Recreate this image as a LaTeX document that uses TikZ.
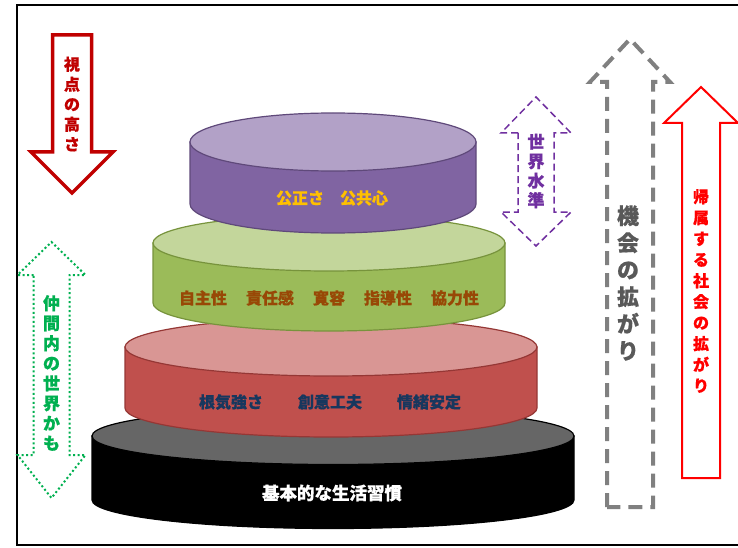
\documentclass[tikz,border=0pt]{standalone}
\usepackage{fontspec}
\newfontfamily\jp[BoldFeatures={FakeBold=0.5}]{Noto Sans CJK JP}
\definecolor{pside}{HTML}{8064A2}
\definecolor{ptop}{HTML}{B2A1C7}
\definecolor{pline}{HTML}{5F497A}
\definecolor{gside}{HTML}{9BBB59}
\definecolor{gtop}{HTML}{C3D69B}
\definecolor{gline}{HTML}{77933C}
\definecolor{rside}{HTML}{C0504D}
\definecolor{rtop}{HTML}{D99694}
\definecolor{rline}{HTML}{953735}
\definecolor{ktop}{HTML}{666666}
\definecolor{darkred}{HTML}{C00000}
\definecolor{txtorange}{HTML}{FFC000}
\definecolor{txtbrown}{HTML}{984806}
\definecolor{txtnavy}{HTML}{17375E}
\definecolor{greenar}{HTML}{00B050}
\definecolor{purplear}{HTML}{7030A0}
\definecolor{grayar}{HTML}{808080}
\definecolor{graytxt}{HTML}{595959}
\newcommand{\mycyl}[8]{%
  \draw[draw=#8, line width=1.2, fill=#6] (#1-#2,#3) -- (#1-#2,#4)
    arc[start angle=180, end angle=360, x radius=#2, y radius=#5] -- (#1+#2,#3) -- cycle;
  \draw[draw=#8, line width=1.2, fill=#7] (#1,#3) ellipse[x radius=#2, y radius=#5];
}
\begin{document}
\begin{tikzpicture}[x=1pt,y=1pt,
  cyltext/.style={font=\jp\bfseries\fontsize{16}{19}\selectfont, inner sep=0pt},
  vtext/.style={align=center, inner sep=0pt, font=\jp\bfseries\fontsize{16}{20}\selectfont},
  arrowshape/.style={fill=white, line join=miter}
]
\useasboundingbox (0,0) rectangle (738,547);
\clip (0,0) rectangle (738,547);
\draw[line width=2] (17,2) rectangle (745,542);

% cylinders, bottom to top
\mycyl{333}{241}{111}{47}{28.5}{black}{ktop}{black}
\mycyl{331}{206}{200}{139}{29}{rside}{rtop}{rline}
\mycyl{329}{176}{304}{244}{28}{gside}{gtop}{gline}
\mycyl{333}{143}{405}{343}{29}{pside}{ptop}{pline}

\node[cyltext, text=white, font=\jp\bfseries\fontsize{17.5}{20}\selectfont] (base) at (332,54) {基本的な生活習慣};
\node[cyltext, text=txtnavy] (tier2) at (330,145) {根気強さ\hspace{35pt}創意工夫\hspace{35pt}情緒安定};
\node[cyltext, text=txtbrown] (tier3) at (329,249) {自主性\hspace{19pt}責任感\hspace{19pt}寛容\hspace{19pt}指導性\hspace{19pt}協力性};
\node[cyltext, text=txtorange] (tier4) at (332,349) {公正さ\hspace{16pt}公共心};

% left down arrow
\draw[arrowshape, draw=darkred, line width=3.5]
  (52.5,512) -- (91.5,512) -- (91.5,395) -- (113,395) -- (72,354) -- (31,395) -- (52.5,395) -- cycle;
\node[vtext, text=darkred] (view) at (72,443) {視\\点\\の\\高\\さ};

% green dotted double arrow
\draw[arrowshape, draw=greenar, line width=2, dash pattern=on 2pt off 2.5pt]
  (33.5,272) -- (17.5,272) -- (51.5,305) -- (85.5,272) -- (69.5,272) -- (69.5,92)
  -- (85.5,92) -- (51.5,49) -- (17.5,92) -- (33.5,92) -- cycle;
\node[vtext, text=greenar, font=\jp\bfseries\fontsize{17}{20}\selectfont] (peer) at (51.5,174) {仲\\間\\内\\の\\世\\界\\か\\も};

% purple dashed double arrow
\draw[arrowshape, draw=purplear, line width=1.5, dash pattern=on 7pt off 4pt]
  (518,414) -- (501,414) -- (536,450) -- (571,414) -- (554,414) -- (554,335)
  -- (571,335) -- (536,301) -- (501,335) -- (518,335) -- cycle;
\node[vtext, text=purplear, font=\jp\bfseries\fontsize{17}{19.5}\selectfont] (world) at (536,376) {世\\界\\水\\準};

% gray dashed up arrow
\draw[arrowshape, draw=grayar, line width=4, dash pattern=on 14pt off 8pt]
  (607,40) -- (607,465) -- (590,465) -- (630,508) -- (670,465) -- (653,465) -- (653,40) -- cycle;
\node[vtext, text=graytxt, font=\jp\bfseries\fontsize{22}{27}\selectfont] (chance) at (628,264) {機\\会\\の\\拡\\が\\り};

% red up arrow right
\draw[arrowshape, draw=red, line width=2]
  (682,69) -- (682,424) -- (664,424) -- (701,460) -- (738,424) -- (720,424) -- (720,69) -- cycle;
\node[vtext, text=red, font=\jp\bfseries\fontsize{16}{21}\selectfont] (society) at (701,256) {帰\\属\\す\\る\\社\\会\\の\\拡\\が\\り};
\end{tikzpicture}
\end{document}
